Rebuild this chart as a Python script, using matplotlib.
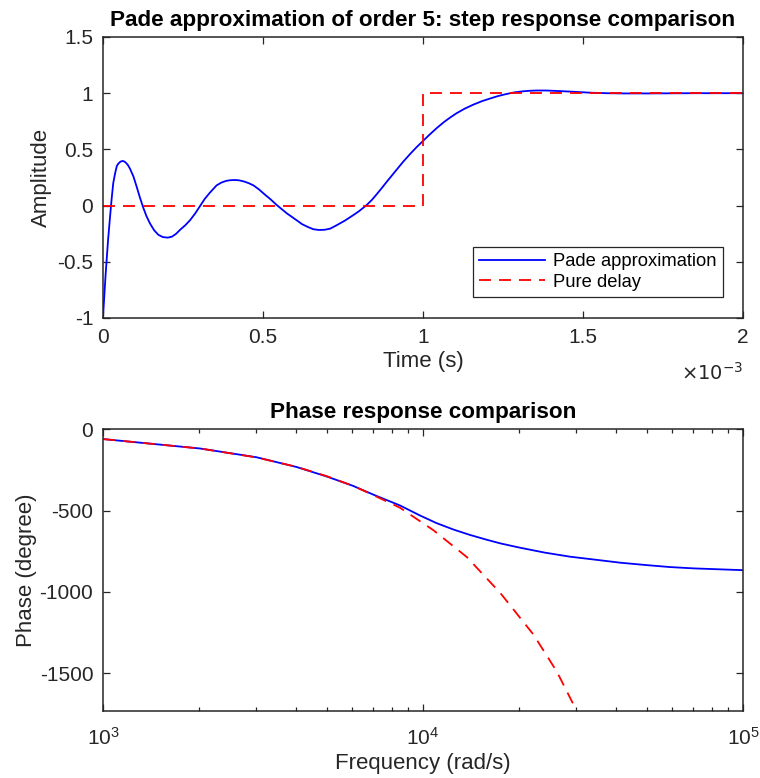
import matplotlib
matplotlib.use("Agg")
import matplotlib.pyplot as plt
from matplotlib.ticker import FuncFormatter, FixedLocator
import numpy as np

plt.rcParams['font.family'] = ['Liberation Sans', 'DejaVu Sans']

# step response: time in ms, amplitude
t_pade_ms = [0.000, 0.002, 0.005, 0.008, 0.0115, 0.016, 0.022, 0.027, 0.032, 0.038,
             0.043, 0.047, 0.052, 0.056, 0.0615, 0.067, 0.072, 0.078, 0.084, 0.095,
             0.105, 0.115, 0.126, 0.136, 0.147, 0.160, 0.173, 0.187, 0.202, 0.215,
             0.228, 0.241, 0.257, 0.272, 0.288, 0.303, 0.318, 0.334, 0.355, 0.370,
             0.385, 0.398, 0.4125, 0.425, 0.440, 0.455, 0.470, 0.487, 0.505, 0.524,
             0.543, 0.560, 0.575, 0.590, 0.605, 0.622, 0.640, 0.657, 0.675, 0.693,
             0.710, 0.730, 0.755, 0.782, 0.800, 0.824, 0.840, 0.855, 0.870, 0.887,
             0.900, 0.912, 0.925, 0.938, 0.960, 0.980, 1.000, 1.020, 1.043, 1.065,
             1.084, 1.105, 1.130, 1.157, 1.185, 1.209, 1.235, 1.261, 1.285, 1.310,
             1.330, 1.355, 1.385, 1.410, 1.440, 1.470, 1.500, 1.520, 1.550, 1.574,
             1.620, 1.700, 1.850, 2.000]
y_pade = [-1.00, -0.90, -0.76, -0.62, -0.48, -0.30, -0.10, 0.06, 0.20, 0.29,
          0.35, 0.37, 0.385, 0.393, 0.397, 0.392, 0.38, 0.36, 0.33, 0.26,
          0.17, 0.075, -0.02, -0.095, -0.16, -0.22, -0.26, -0.28, -0.285, -0.277,
          -0.252, -0.215, -0.175, -0.13, -0.07, -0.005, 0.06, 0.115, 0.18, 0.205,
          0.22, 0.226, 0.228, 0.225, 0.215, 0.20, 0.18, 0.145, 0.10, 0.055,
          0.005, -0.035, -0.07, -0.10, -0.13, -0.165, -0.19, -0.21, -0.217, -0.215,
          -0.205, -0.175, -0.135, -0.085, -0.05, 0.005, 0.05, 0.10, 0.152, 0.213,
          0.258, 0.30, 0.345, 0.39, 0.46, 0.52, 0.575, 0.63, 0.69, 0.742,
          0.782, 0.822, 0.862, 0.898, 0.93, 0.952, 0.975, 0.993, 1.007, 1.016,
          1.021, 1.024, 1.024, 1.021, 1.017, 1.013, 1.008, 1.005, 1.002, 1.0,
          0.998, 0.998, 1.0, 1.0]
t_delay_ms = [0.0, 1.0, 1.0, 2.0]
y_delay = [0.0, 0.0, 1.0, 1.0]

# phase response: rad/s, degrees
w_pade = [1000, 2010, 3020, 4030, 5000, 6050, 7000, 8470, 9790, 11000,
          12440, 14000, 15820, 17500, 20100, 24000, 28770, 35700, 41290, 50000,
          59180, 70000, 84800, 100000]
ph_pade = [-60, -118, -172, -232, -290, -348, -402, -468, -530, -576,
           -616, -649, -679, -702, -728, -758, -783, -805, -820, -835,
           -847, -855, -861, -866]
w_delay = [1000, 2010, 3020, 4030, 5000, 6050, 7000, 8470, 10770, 13700,
           17420, 22140, 26200, 30200]
ph_delay = [-60, -118, -173, -231, -288, -348, -405, -482, -620, -785,
            -1005, -1262, -1490, -1730]

axcol = (0.15, 0.15, 0.15)
W, H = 760, 778
fig = plt.figure(figsize=(W / 100, H / 100), dpi=100)
ax1 = fig.add_axes([103 / W, 1 - 318 / H, 640 / W, 281 / H])
ax2 = fig.add_axes([103 / W, 1 - 710.7 / H, 640 / W, 281.4 / H])

lw = 1.3
dash = (8.6 / lw, 5.8 / lw)

t1 = np.array(t_pade_ms) * 1e-3
t2 = np.array(t_delay_ms) * 1e-3
ax1.plot(t1, y_pade, color='#0000ff', lw=lw, label='Pade approximation')
ax1.plot(t2, y_delay, color='#ff0000', lw=lw, dashes=dash, label='Pure delay')
ax1.set_xlim(0, 2e-3)
ax1.set_ylim(-1, 1.5)
ax1.xaxis.set_major_locator(FixedLocator([0, 0.5e-3, 1e-3, 1.5e-3, 2e-3]))
ax1.xaxis.set_major_formatter(FuncFormatter(lambda v, p: '%g' % round(v * 1e3, 3)))
ax1.yaxis.set_major_locator(FixedLocator([-1, -0.5, 0, 0.5, 1, 1.5]))
ax1.yaxis.set_major_formatter(FuncFormatter(lambda v, p: '%g' % v))
ax1.set_title('Pade approximation of order 5: step response comparison',
              fontsize=16.2, fontweight='bold', pad=8)
ax1.set_xlabel('Time (s)', fontsize=16, color=axcol, labelpad=3)
ax1.set_ylabel('Amplitude', fontsize=16, color=axcol, labelpad=4)
ax1.text(1.0, -0.155, r'$\times10^{-3}$', transform=ax1.transAxes,
         ha='right', va='top', fontsize=14, color=axcol)
leg = ax1.legend(loc='lower right', bbox_to_anchor=(0.969, 0.075), fontsize=13.2,
                 fancybox=False, framealpha=1, edgecolor=axcol,
                 handlelength=3.6, borderpad=0.35, labelspacing=0.18,
                 handletextpad=0.45, borderaxespad=0)
leg.get_frame().set_linewidth(0.9)

ax2.semilogx(w_pade, ph_pade, color='#0000ff', lw=lw)
ax2.semilogx(w_delay, ph_delay, color='#ff0000', lw=lw, dashes=dash)
ax2.set_xlim(1e3, 1e5)
ax2.set_ylim(-1730, 0)
ax2.yaxis.set_major_locator(FixedLocator([-1500, -1000, -500, 0]))
ax2.yaxis.set_major_formatter(FuncFormatter(lambda v, p: '%g' % v))
ax2.set_title('Phase response comparison', fontsize=16.2, fontweight='bold', pad=8)
ax2.set_xlabel('Frequency (rad/s)', fontsize=16, color=axcol, labelpad=3)
ax2.set_ylabel('Phase (degree)', fontsize=16, color=axcol, labelpad=2)

for ax in (ax1, ax2):
    for s in ax.spines.values():
        s.set_color(axcol)
        s.set_linewidth(1.1)
    ax.tick_params(which='both', direction='in', top=True, right=True,
                   colors=axcol, labelsize=15, width=0.9)
    ax.tick_params(which='major', length=5, pad=7)
    ax.tick_params(which='minor', length=3)
ax2.tick_params(axis='x', which='major', pad=12)

fig.savefig('out.png', dpi=100)
